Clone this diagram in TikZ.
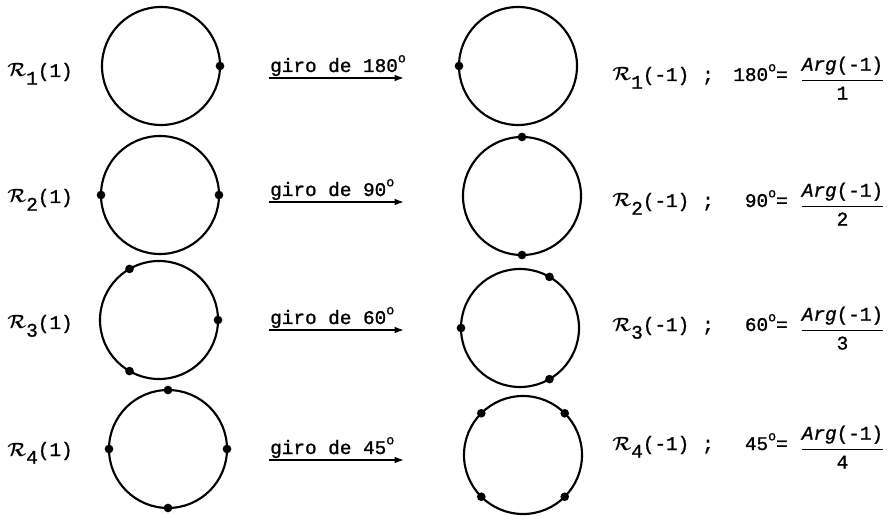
\documentclass[tikz,border=0pt]{standalone}
\usepackage{amsmath}
\usepackage{fontspec}
\newfontfamily\typew{Liberation Mono}[FakeBold=1.2]
\usetikzlibrary{arrows.meta}
\newcommand{\Rk}[2]{$\mathcal{R}$\raisebox{-0.4em}{#1}(#2)}
\newcommand{\grad}{\raisebox{0.5em}{\fontsize{10}{10}\selectfont o}}
\newcommand{\argfrac}[1]{$\dfrac{\text{\itshape Arg\upshape(-1)}}{\text{#1}}$}

\begin{document}
\begin{tikzpicture}[x=0.75pt, y=-0.75pt,
  font=\typew\boldmath\fontsize{14.5}{16}\selectfont,
  ring/.style={draw, circle, line width=1.6pt, minimum size=88.5pt, inner sep=0pt, outer sep=0pt},
  root/.style={fill, circle, inner sep=0pt, minimum size=6.5pt},
  lbl/.style={inner sep=0pt},
  turn/.style={-{Latex[length=7pt,width=5pt]}, line width=1.1pt}]
  \useasboundingbox (0,0) rectangle (895,516);
  % circles before and after the turn
  \node[ring] (a1) at (161,66) {};
  \node[ring] (b1) at (518,66) {};
  \node[ring] (a2) at (160,195) {};
  \node[ring] (b2) at (522,196) {};
  \node[ring] (a3) at (159,320) {};
  \node[ring] (b3) at (520,328) {};
  \node[ring] (a4) at (168,449) {};
  \node[ring] (b4) at (523,455) {};
  % roots of 1
  \node[root] at (a1.0) {};
  \foreach \t in {0,180} {\node[root] at (a2.\t) {};}
  \foreach \t in {0,120,240} {\node[root] at (a3.\t) {};}
  \foreach \t in {0,90,180,270} {\node[root] at (a4.\t) {};}
  % roots of -1
  \node[root] at (b1.180) {};
  \foreach \t in {90,270} {\node[root] at (b2.\t) {};}
  \foreach \t in {60,180,300} {\node[root] at (b3.\t) {};}
  \foreach \t in {45,135,225,315} {\node[root] at (b4.\t) {};}
  % left labels
  \foreach \k/\y in {1/77, 2/203, 3/329, 4/456}
    {\node[lbl, anchor=base west] (l\k) at (7,\y) {\Rk{\k}{1}};}
  % turns
  \foreach \k/\ang/\y in {1/180/78, 2/90/202, 3/60/330, 4/45/460} {
    \coordinate (s\k) at (269,\y);
    \coordinate (e\k) at (404,\y);
    \node[lbl, anchor=base west] (g\k) at (270,\y-6) {giro de \ang\grad};
    \draw[turn] (s\k) -- (e\k);
  }
  % right labels
  \foreach \k/\ang/\y in {1/180/81, 2/90/207, 3/60/331, 4/45/450} {
    \node[lbl, anchor=base west] (r\k) at (612,\y) {\Rk{\k}{-1}};
    \node[lbl, anchor=base] (c\k) at (708,\y) {;};
    \node[lbl, anchor=base east] (d\k) at (788,\y) {\ang\grad=};
    \node[lbl, anchor=base west] (f\k) at (800,\y+4) {\argfrac{\k}};
  }
\end{tikzpicture}
\end{document}
